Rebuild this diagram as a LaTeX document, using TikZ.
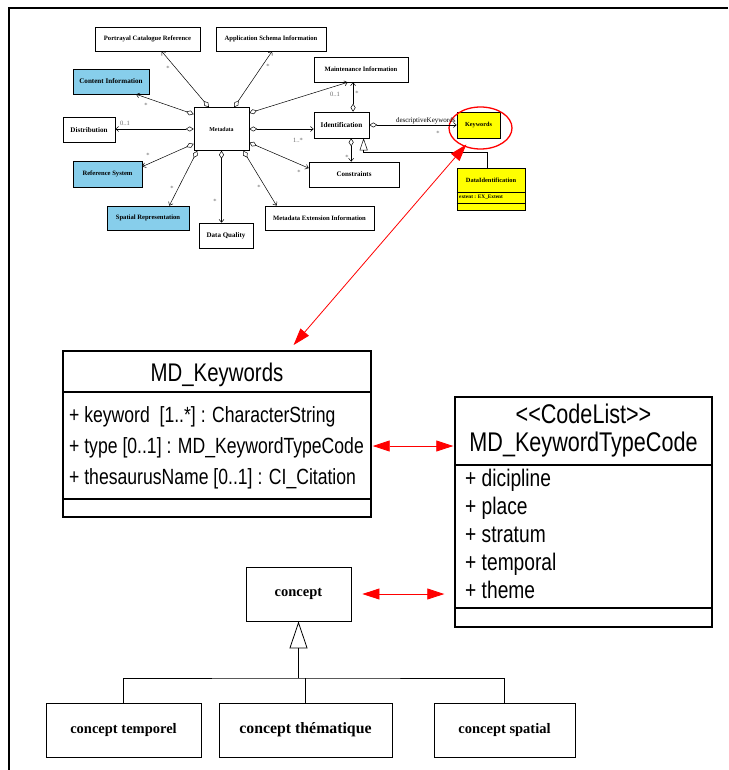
\documentclass[tikz,border=0pt]{standalone}
\usepackage{fontspec}
\usetikzlibrary{arrows.meta,shapes.geometric}
\newfontfamily\umlserif{Liberation Serif}
\newfontfamily\umlsans[FakeStretch=0.8]{Liberation Sans}
\definecolor{classblue}{RGB}{135,206,235}
\definecolor{classyellow}{RGB}{255,255,0}

\begin{document}
\begin{tikzpicture}[x=1pt, y=-1pt,
    box/.style={draw, rectangle, inner sep=0pt, line width=0.6pt, font=\umlserif\bfseries\fontsize{6.6}{7}\selectfont},
    bigbox/.style={draw, rectangle, inner sep=0pt, line width=0.8pt, font=\umlserif\bfseries\fontsize{14.5}{16}\selectfont},
    classbox/.style={draw, rectangle, inner sep=0pt, line width=1.4pt},
    agg/.style={line width=0.5pt, {Diamond[open,length=8pt,width=5pt]}-{Straight Barb[length=3pt,width=5pt]}},
    gen/.style={line width=0.5pt, -{Triangle[open,length=12pt,width=8pt]}},
    mult/.style={inner sep=0pt, text=black!60, font=\umlserif\fontsize{6.5}{7}\selectfont},
    redarrow/.style={red, line width=0.8pt, {Triangle[length=17pt,width=11pt]}-{Triangle[length=17pt,width=11pt]}},
    attr/.style={inner sep=0pt, anchor=base west, font=\umlsans\fontsize{22}{24}\selectfont},
    code/.style={inner sep=0pt, anchor=base west, font=\umlsans\fontsize{24}{26}\selectfont}]
  \useasboundingbox (0,0) rectangle (728,770);
  \draw[line width=2pt] (9,770) -- (9,8.5) -- (728,8.5);

  \node (pc) at (147.5,39) [box, minimum width=105, minimum height=24] {Portrayal Catalogue Reference};
  \node (as) at (271,39) [box, minimum width=110, minimum height=24] {Application Schema Information};
  \node (mi) at (361,69.5) [box, minimum width=94, minimum height=25] {Maintenance Information};
  \node (ci) at (111,81.5) [box, fill=classblue, minimum width=76, minimum height=25, font=\umlserif\bfseries\fontsize{7.1}{8}\selectfont] {Content Information};
  \node (dist) at (89,130) [box, minimum width=52, minimum height=25, font=\umlserif\bfseries\fontsize{7.1}{8}\selectfont] {Distribution};
  \node (md) at (221.5,129) [box, minimum width=55, minimum height=43, font=\umlserif\bfseries\fontsize{5.9}{7}\selectfont] {Metadata};
  \node (id) at (341.5,125) [box, minimum width=55, minimum height=26, font=\umlserif\bfseries\fontsize{7.2}{8}\selectfont] {Identification};
  \node (rs) at (107.5,174) [box, fill=classblue, minimum width=69, minimum height=26] {Reference System};
  \node (co) at (354,174.5) [box, minimum width=90, minimum height=25, font=\umlserif\bfseries\fontsize{7}{8}\selectfont] {Constraints};
  \node (sr) at (148,218) [box, fill=classblue, minimum width=82, minimum height=24] {Spatial Representation};
  \node (dq) at (226,235.5) [box, minimum width=54, minimum height=25, font=\umlserif\bfseries\fontsize{7}{8}\selectfont] {Data Quality};
  \node (me) at (319.5,218) [box, minimum width=109, minimum height=24] {Metadata Extension Information};
  \node (kw) at (478.5,125) [box, fill=classyellow, minimum width=43, minimum height=26, font=\umlserif\bfseries\fontsize{6.2}{7}\selectfont] {Keywords};
  \node (kwring) at (480.5,128) [draw=red, line width=1.3pt, ellipse, minimum width=63, minimum height=42] {};
  \node (di) at (491,189) [box, fill=classyellow, minimum width=68, minimum height=42] {};
  \node (ditxt) at (491,180) [inner sep=0pt, font=\umlserif\bfseries\fontsize{6.4}{7}\selectfont] {DataIdentification};
  \node (diattr) at (459,197.5) [inner sep=0pt, anchor=west, font=\umlserif\bfseries\fontsize{5.3}{6}\selectfont] {extent : EX\_Extent};
  \draw[line width=0.6pt] (di.west |- 0,192) -- (di.east |- 0,192);
  \draw[line width=0.6pt] (di.west |- 0,203) -- (di.east |- 0,203);

  \draw[agg] (md.120) to (pc.319);
  \draw[agg] (md.60) to (as.275);
  \draw[agg] (md.152) to (ci.333);
  \draw[agg] (md.west) to (md.west -| dist.east);
  \draw[agg] (md.208) to (rs.12);
  \draw[agg] (md.222) to (sr.30);
  \draw[agg] (md.south) to (md.south |- dq.north);
  \draw[agg] (md.315) to (me.164);
  \draw[agg] (md.334) to (co.172);
  \draw[agg] (md.east) to (md.east -| id.west);
  \draw[agg] (md.30) to (mi.224);
  \draw[agg] (id.49) to (id.49 |- mi.south);
  \draw[agg] (id.306) to (id.306 |- co.north);
  \draw[agg] (id.east) to (id.east -| kw.west);
  \draw[gen] (di.100) -- ++(0,-15) -| (id.329);

  \node at (168,68) [mult] {*};
  \node at (268,66) [mult] {*};
  \node at (146,105) [mult] {*};
  \node at (125,123) [mult] {0..1};
  \node at (148,155) [mult] {*};
  \node at (172,188) [mult] {*};
  \node at (215,201) [mult] {*};
  \node at (259,187) [mult] {*};
  \node at (299,172) [mult] {*};
  \node at (298,140) [mult] {1..*};
  \node at (335,94) [mult] {0..1};
  \node at (357,93) [mult] {*};
  \node at (347,157) [mult] {*};
  \node at (438,133) [mult] {*};
  \node at (kw.west) [anchor=south east, inner sep=1pt, font=\umlserif\fontsize{7}{8}\selectfont] {descriptiveKeywords};

  \node (mdk) at (217,434) [classbox, minimum width=308, minimum height=166] {};
  \node (mdktitle) at (217,381.5) [inner sep=0pt, anchor=base, font=\umlsans\fontsize{25.5}{28}\selectfont] {MD\_Keywords};
  \draw[line width=1.4pt] (mdk.west |- 0,392) -- (mdk.east |- 0,392);
  \draw[line width=1.4pt] (mdk.west |- 0,499) -- (mdk.east |- 0,499);
  \node at (69,422) [attr] {+ keyword\ \ [1..*] : CharacterString};
  \node at (69,453) [attr] {+ type [0..1] : MD\_KeywordTypeCode};
  \node at (69,484) [attr] {+ thesaurusName [0..1] : CI\_Citation};

  \node (kt) at (583.5,512) [classbox, minimum width=257, minimum height=230] {};
  \node (ktstereo) at (583.5,423) [inner sep=0pt, anchor=base, font=\umlsans\fontsize{27}{28}\selectfont] {<\kern0pt<CodeList>\kern0pt>};
  \node (kttitle) at (583.5,451.5) [inner sep=0pt, anchor=base, font=\umlsans\fontsize{27}{28}\selectfont] {MD\_KeywordTypeCode};
  \draw[line width=1.4pt] (kt.west |- 0,465) -- (kt.east |- 0,465);
  \draw[line width=1.4pt] (kt.west |- 0,608) -- (kt.east |- 0,608);
  \node at (465,486) [code] {+ dicipline};
  \node at (465,514) [code] {+ place};
  \node at (465,542) [code] {+ stratum};
  \node at (465,570) [code] {+ temporal};
  \node at (465,598) [code] {+ theme};

  \node (cp) at (298.5,594) [bigbox, minimum width=105, minimum height=54] {concept};
  \node (tm) at (123.5,730) [bigbox, minimum width=155, minimum height=54] {concept temporel};
  \node (th) at (305.5,730) [bigbox, minimum width=173, minimum height=54, font=\umlserif\bfseries\fontsize{15.8}{17}\selectfont] {concept thématique};
  \node (sp) at (504.5,730) [bigbox, minimum width=141, minimum height=54] {concept spatial};
  \coordinate (bar) at (298.5,678);
  \draw[line width=0.8pt, -{Triangle[open,length=27pt,width=18pt]}] (bar) -- (cp.south);
  \draw[line width=0.8pt] (tm.north) |- (bar) -| (sp.north);
  \draw[line width=0.8pt] (th.north) -- (th.north |- bar);

  \draw[redarrow, shorten <=7pt, shorten >=-3pt] (mdk) to (kwring);
  \draw[redarrow, shorten <=1pt, shorten >=1pt] ([yshift=-12pt]mdk.east) -- ([yshift=-12pt]mdk.east -| kt.west);
  \draw[redarrow, shorten <=11pt, shorten >=10pt] (cp.east) -- (cp.east -| kt.west);
\end{tikzpicture}
\end{document}
